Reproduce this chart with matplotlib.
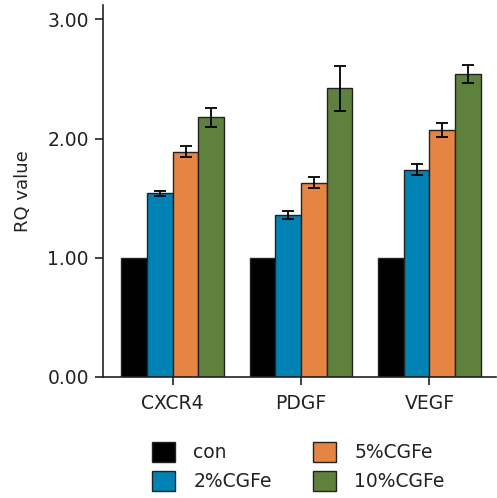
import matplotlib.pyplot as plt
import numpy as np
from matplotlib.patches import Patch

plt.rcParams['font.family'] = ['DejaVu Sans']

genes = ['CXCR4', 'PDGF', 'VEGF']
groups = ['con', '2%CGFe', '5%CGFe', '10%CGFe']
colors = ['#000000', '#0083b4', '#e58443', '#5e823e']

values = [
    [1.00, 1.00, 1.00],
    [1.54, 1.36, 1.74],
    [1.89, 1.63, 2.07],
    [2.18, 2.42, 2.54],
]
errors = [
    [0.00, 0.00, 0.00],
    [0.02, 0.035, 0.047],
    [0.045, 0.047, 0.056],
    [0.08, 0.19, 0.077],
]

fig = plt.figure(figsize=(4.97, 4.98), dpi=100)
ax = fig.add_axes([0.207, 0.243, 0.79, 0.747])

x = np.arange(len(genes))
w = 0.2
for i, g in enumerate(groups):
    pos = x + (i - 1.5) * w
    ax.bar(pos, values[i], w, color=colors[i], edgecolor='#222222', linewidth=1.0, zorder=2)
    if i > 0:
        ax.errorbar(pos, values[i], yerr=errors[i], fmt='none', ecolor='black',
                    elinewidth=1.3, capsize=4.5, capthick=1.3, zorder=3)

ax.set_xlim(-0.545, 2.515)
ax.set_ylim(0, 3.12)
ax.set_yticks([0, 1, 2, 3])
ax.set_yticklabels(['0.00', '1.00', '2.00', '3.00'])
ax.set_xticks(x)
ax.set_xticklabels(genes)
ax.tick_params(axis='both', labelsize=13.5, length=6, width=1.2, color='#222222', labelcolor='#222222')
ax.tick_params(axis='y', pad=4)
ax.tick_params(axis='x', pad=6)
for s in ['top', 'right']:
    ax.spines[s].set_visible(False)
for s in ['left', 'bottom']:
    ax.spines[s].set_linewidth(1.2)
    ax.spines[s].set_color('#222222')
ax.set_ylabel('RQ value', fontsize=13, color='#222222', labelpad=11)

handles = [Patch(facecolor=colors[i], edgecolor='#222222', linewidth=1.0) for i in range(4)]
fig.legend(handles, groups, ncol=2, loc='center', bbox_to_anchor=(0.6, 0.063),
           frameon=False, fontsize=13.5, handlelength=1.25, handleheight=1.25,
           handletextpad=0.95, columnspacing=2.2, labelspacing=0.45, labelcolor='#222222')

fig.savefig('out.png', dpi=100)
